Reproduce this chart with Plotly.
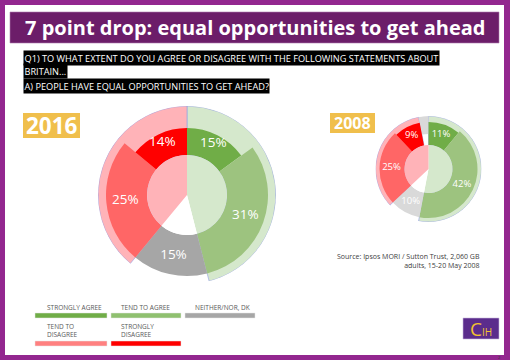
import plotly.graph_objects as go

# ---------------- data ----------------
categories = ["Strongly agree", "Tend to agree", "Neither/nor, DK", "Tend to disagree", "Strongly disagree"]
values_2016 = [15, 31, 15, 25, 14]
values_2008 = [11, 42, 10, 25, 9]
legend_labels = ["STRONGLY AGREE", "TEND TO AGREE", "NEITHER/NOR, DK", "TEND TO<br>DISAGREE", "STRONGLY<br>DISAGREE"]
title_text = "7 point drop: equal opportunities to get ahead"
question_lines = [
    "Q1) TO WHAT EXTENT DO YOU AGREE OR DISAGREE WITH THE FOLLOWING STATEMENTS ABOUT",
    "BRITAIN...",
    "A) PEOPLE HAVE EQUAL OPPORTUNITIES TO GET AHEAD?",
]
source_lines = ["Source: Ipsos MORI / Sutton Trust, 2,060 GB", "adults, 15-20 May 2008"]

# ---------------- styles ----------------
W, H = 510, 360
FONT = "Open Sans"
PURPLE = "#93278F"
DARK_PURPLE = "#6C1D69"
GOLD = "#F0BF4C"
C_SA = "#70AD47"
C_TA = "#9DC37F"
C_LG = "#D5E8CC"
C_NE16 = "#A6A6A6"
C_NE08 = "#D9D9D9"
C_TD = "#FF6666"
C_SD = "#FF0000"
C_LP = "#FFB3B8"
LEG_COLORS = ["#70AD47", "#8FC06F", "#A6A6A6", "#FF8080", "#FF0000"]


def X(x):
    return x / W


def Y(y):
    return 1 - y / H


fig = go.Figure()


def add_chart(vals, subplot, r_in, r_strong, r_mid, r_out, neither_color, lab_r_strong, lab_r_other, fsize):
    starts = []
    c = 0
    for v in vals:
        starts.append(c)
        c += v
    total = c
    mids = [(s + v / 2) * 3.6 for s, v in zip(starts, vals)]
    widths = [v * 3.6 for v in vals]
    agree = vals[0] + vals[1]
    disagree = vals[3] + vals[4]
    gap = 100 - total
    # outer ring (agree / disagree totals)
    fig.add_trace(go.Barpolar(
        theta=[agree / 2 * 3.6, (agree + vals[2] + disagree / 2) * 3.6],
        width=[agree * 3.6, disagree * 3.6],
        base=[r_in, r_in], r=[r_out - r_in, r_out - r_in],
        marker=dict(color=[C_LG, C_LP], line=dict(color="rgba(150,160,230,0.8)", width=0.8)),
        subplot=subplot, hoverinfo="skip", showlegend=False))
    if gap > 0:
        fig.add_trace(go.Barpolar(
            theta=[(total + gap / 2) * 3.6], width=[gap * 3.6],
            base=[r_strong - 12], r=[r_out - r_strong + 12],
            marker=dict(color=[C_NE08], line=dict(width=0)),
            subplot=subplot, hoverinfo="skip", showlegend=False))
    seg_colors = [C_SA, C_TA, neither_color, C_TD, C_SD]
    outer = [r_strong, r_mid, r_mid, r_mid, r_strong]
    fig.add_trace(go.Barpolar(
        theta=mids, width=widths,
        base=[r_in] * 5, r=[o - r_in for o in outer],
        marker=dict(color=seg_colors, line=dict(width=0)),
        subplot=subplot, hoverinfo="skip", showlegend=False))
    # inner circle
    disagree_span = disagree + gap
    fig.add_trace(go.Barpolar(
        theta=[agree / 2 * 3.6, (agree + vals[2] / 2) * 3.6, (agree + vals[2] + disagree_span / 2) * 3.6],
        width=[agree * 3.6, vals[2] * 3.6, disagree_span * 3.6],
        base=[0, 0, 0], r=[r_in, r_in, r_in],
        marker=dict(color=[C_LG, "#FFFFFF", C_LP], line=dict(width=0)),
        subplot=subplot, hoverinfo="skip", showlegend=False))
    # labels
    lab_r = [lab_r_strong, lab_r_other, lab_r_other, lab_r_other, lab_r_strong]
    fig.add_trace(go.Scatterpolar(
        theta=mids, r=lab_r, mode="text",
        text=[f"{v}%" for v in vals],
        textfont=dict(family=FONT, size=fsize, color="white"),
        subplot=subplot, hoverinfo="skip", showlegend=False))


add_chart(values_2016, "polar", 40, 67, 81, 89, C_NE16, 58, 62, 13.5)
add_chart(values_2008, "polar2", 24, 47, 49, 53, C_NE08, 37, 37, 9.5)


def polar_layout(cx, cy, R):
    return dict(
        domain=dict(x=[X(cx - R), X(cx + R)], y=[Y(cy + R), Y(cy - R)]),
        bgcolor="rgba(0,0,0,0)", barmode="overlay",
        radialaxis=dict(visible=False, range=[0, R]),
        angularaxis=dict(visible=False, rotation=90, direction="clockwise"),
    )


shapes = []
# white page inside purple frame
shapes.append(dict(type="rect", xref="paper", yref="paper", x0=0, x1=1, y0=0, y1=1,
                   fillcolor=PURPLE, line=dict(width=0), layer="below"))
shapes.append(dict(type="rect", xref="paper", yref="paper", x0=X(5), x1=X(504), y0=Y(355), y1=Y(5),
                   fillcolor="white", line=dict(width=0), layer="below"))
# title band
shapes.append(dict(type="rect", xref="paper", yref="paper", x0=X(10), x1=X(499), y0=Y(43), y1=Y(12),
                   fillcolor=DARK_PURPLE, line=dict(color="#B07AB0", width=0.6), layer="below"))
# year boxes
shapes.append(dict(type="rect", xref="paper", yref="paper", x0=X(23), x1=X(80), y0=Y(138), y1=Y(113),
                   fillcolor=GOLD, line=dict(width=0), layer="below"))
shapes.append(dict(type="rect", xref="paper", yref="paper", x0=X(330), x1=X(375), y0=Y(133), y1=Y(113),
                   fillcolor=GOLD, line=dict(width=0), layer="below"))
# legend bars
leg_bars = [(35, 107, 313, 318), (111, 181, 313, 318), (185, 255, 313, 318),
            (35, 107, 341, 346), (111, 181, 341, 346)]
for (x0, x1, y0, y1), col in zip(leg_bars, LEG_COLORS):
    shapes.append(dict(type="rect", xref="paper", yref="paper", x0=X(x0), x1=X(x1), y0=Y(y1), y1=Y(y0),
                       fillcolor=col, line=dict(color="#E6E6E6", width=0.5), layer="below"))
# logo
shapes.append(dict(type="rect", xref="paper", yref="paper", x0=X(463), x1=X(499), y0=Y(339), y1=Y(318),
                   fillcolor="#5B2C8C", line=dict(color="#C9B8DE", width=0.6), layer="below"))

annotations = []
annotations.append(dict(text=f"<b>{title_text}</b>", x=X(255), y=Y(28), xref="paper", yref="paper",
                        xanchor="center", yanchor="middle", showarrow=False,
                        font=dict(family=FONT, size=20, color="white")))
for i, (line, yy) in enumerate(zip(question_lines, [58.5, 71.5, 86])):
    annotations.append(dict(text=line, x=X(23), y=Y(yy), xref="paper", yref="paper",
                            xanchor="left", yanchor="middle", showarrow=False, bgcolor="black",
                            borderpad=0.5, font=dict(family=FONT, size=9.2, color="white")))
annotations.append(dict(text="<b>2016</b>", x=X(51.5), y=Y(125.5), xref="paper", yref="paper",
                        xanchor="center", yanchor="middle", showarrow=False,
                        font=dict(family=FONT, size=22.5, color="white")))
annotations.append(dict(text="<b>2008</b>", x=X(352.5), y=Y(123), xref="paper", yref="paper",
                        xanchor="center", yanchor="middle", showarrow=False,
                        font=dict(family=FONT, size=16, color="white")))
annotations.append(dict(text="<br>".join(source_lines), x=X(482), y=Y(261), xref="paper", yref="paper",
                        xanchor="right", yanchor="middle", align="right", showarrow=False,
                        font=dict(family=FONT, size=7, color="#404040")))
leg_text_pos = [(45, 307), (119, 307), (193, 307), (45, 330), (119, 330)]
for lab, (lx, ly) in zip(legend_labels, leg_text_pos):
    annotations.append(dict(text=lab, x=X(lx), y=Y(ly), xref="paper", yref="paper",
                            xanchor="left", yanchor="middle", align="left", showarrow=False,
                            font=dict(family=FONT, size=6.5, color="#595959")))
annotations.append(dict(text="<span style='font-size:19px'>C</span>IH", x=X(481), y=Y(328.5),
                        xref="paper", yref="paper", xanchor="center", yanchor="middle", showarrow=False,
                        font=dict(family=FONT, size=10, color="#F2C230")))
annotations.append(dict(text="2", x=X(499), y=Y(357.5), xref="paper", yref="paper",
                        xanchor="center", yanchor="middle", showarrow=False,
                        font=dict(family=FONT, size=4, color="#333333")))

fig.update_layout(
    width=W, height=H, margin=dict(l=0, r=0, t=0, b=0),
    paper_bgcolor="white", plot_bgcolor="white",
    polar=polar_layout(187, 195, 89),
    polar2=polar_layout(428.5, 169, 53),
    shapes=shapes, annotations=annotations,
    showlegend=False,
    font=dict(family=FONT),
)

fig.write_html("out.html", config={"displayModeBar": False},
               post_script="document.body.style.margin='0';document.body.style.overflow='hidden';")
